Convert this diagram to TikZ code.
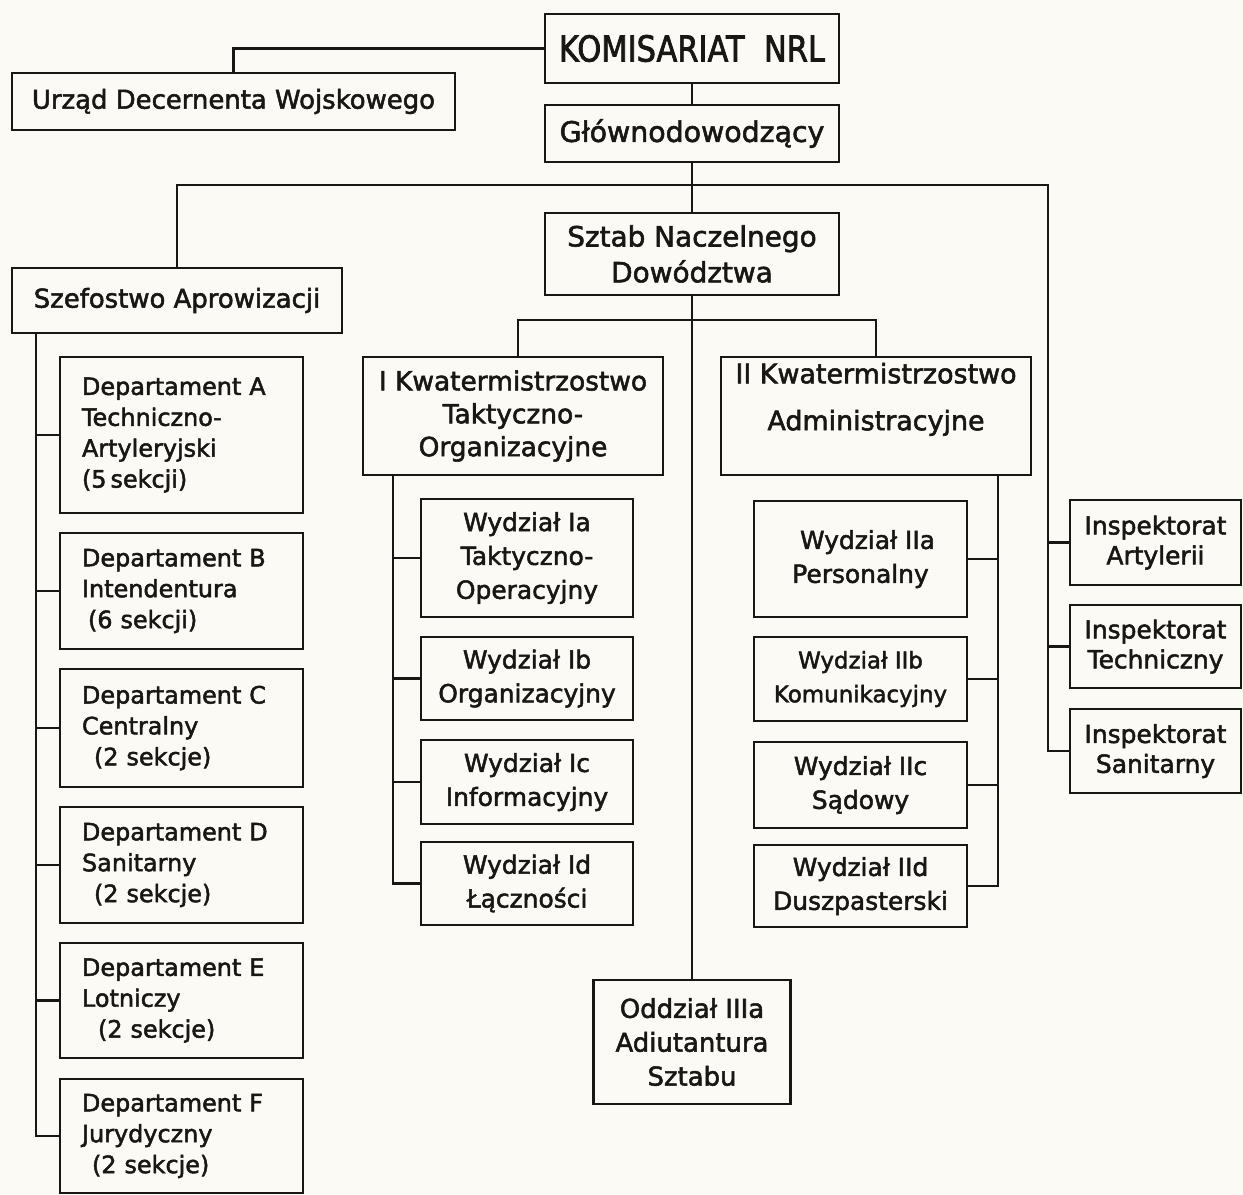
\documentclass[tikz,border=0pt]{standalone}
\usepackage{fontspec}
\setmainfont[FakeBold=2]{DejaVu Sans}
\newfontfamily\nfont[FakeStretch=0.85,FakeBold=2]{DejaVu Sans}
\definecolor{bgc}{RGB}{251,250,244}
\definecolor{ink}{RGB}{25,22,20}
\tikzset{
  box/.style={draw=ink, text=ink, line width=2.8bp, inner sep=0pt, align=center,
              font=\fontsize{24}{33}\selectfont},
  big/.style={box, font=\fontsize{26}{36}\selectfont},
  dept/.style={box, minimum width=243bp, text width=199bp, inner xsep=22bp, align=left,
               font=\fontsize{24}{31}\selectfont},
  wyd/.style={box, font=\fontsize{25}{34}\selectfont},
  insp/.style={box, minimum width=171bp, font=\fontsize{25}{30}\selectfont},
  conn/.style={draw=ink, line width=2.8bp}
}
\begin{document}
\begin{tikzpicture}[x=1bp,y=-1bp]
\useasboundingbox (0,0) rectangle (1243,1195);
\fill[bgc] (0,0) rectangle (1243,1195);

% top level
\node[box, minimum width=294bp, minimum height=69bp, font=\nfont\fontsize{36}{40}\selectfont] (kom) at (692,48.5) {KOMISARIAT\ \ NRL};
\node[box, minimum width=294bp, minimum height=57bp, font=\fontsize{28.5}{32}\selectfont] (glo) at (692,133.5) {Głównodowodzący};
\node[big, minimum width=443bp, minimum height=57bp] (urz) at (233.5,101.5) {Urząd Decernenta Wojskowego};
\node[big, minimum width=330bp, minimum height=65bp] (szef) at (177,300.5) {Szefostwo Aprowizacji};
\node[big, minimum width=294bp, minimum height=82bp, font=\fontsize{28}{36}\selectfont] (sztab) at (692,254) {Sztab Naczelnego\\Dowództwa};

% quartermasters
\node[box, minimum width=300bp, minimum height=118bp, font=\fontsize{26.5}{33}\selectfont] (kwI) at (513,416) {I Kwatermistrzostwo\\Taktyczno-\\Organizacyjne};
\node[box, minimum width=310bp, minimum height=118bp, font=\fontsize{27}{33}\selectfont] (kwII) at (876,416) {II Kwatermistrzostwo\\[14bp]Administracyjne\\[6bp]};

% departments
\node[dept, minimum height=156bp] (dA) at (181.5,435) {Departament A\\Techniczno-\\Artyleryjski\\(5\,sekcji)};
\node[dept, minimum height=116bp] (dB) at (181.5,591) {Departament B\\Intendentura\\\hspace*{6bp}(6 sekcji)};
\node[dept, minimum height=118bp] (dC) at (181.5,728) {Departament C\\Centralny\\\hspace*{12bp}(2 sekcje)};
\node[dept, minimum height=116bp] (dD) at (181.5,865) {Departament D\\Sanitarny\\\hspace*{12bp}(2 sekcje)};
\node[dept, minimum height=115bp] (dE) at (181.5,1000.5) {Departament E\\Lotniczy\\\hspace*{16bp}(2 sekcje)};
\node[dept, minimum height=114bp] (dF) at (181.5,1136) {Departament F\\Jurydyczny\\\hspace*{10bp}(2 sekcje)};

% Wydzialy I
\node[wyd, minimum width=212bp, minimum height=118bp] (wIa) at (527,558) {Wydział Ia\\Taktyczno-\\Operacyjny};
\node[wyd, minimum width=212bp, minimum height=83bp] (wIb) at (527,678.5) {Wydział Ib\\Organizacyjny};
\node[wyd, minimum width=212bp, minimum height=84bp] (wIc) at (527,782) {Wydział Ic\\Informacyjny};
\node[wyd, minimum width=212bp, minimum height=83bp] (wId) at (527,883.5) {Wydział Id\\Łączności};

% Wydzialy II
\node[wyd, minimum width=213bp, minimum height=116bp] (wIIa) at (860.5,559) {\hspace*{14bp}Wydział IIa\\Personalny};
\node[wyd, minimum width=213bp, minimum height=84bp, font=\fontsize{23}{34}\selectfont] (wIIb) at (860.5,679) {Wydział IIb\\Komunikacyjny};
\node[wyd, minimum width=213bp, minimum height=86bp] (wIIc) at (860.5,785) {Wydział IIc\\Sądowy};
\node[wyd, minimum width=213bp, minimum height=82bp] (wIId) at (860.5,886) {Wydział IId\\Duszpasterski};

% Inspektoraty
\node[insp, minimum height=85bp] (art) at (1155.5,542.5) {Inspektorat\\Artylerii};
\node[insp, minimum height=83bp] (tech) at (1155.5,646.5) {Inspektorat\\Techniczny};
\node[insp, minimum height=84bp] (san) at (1155.5,751) {Inspektorat\\Sanitarny};

% Oddzial
\node[wyd, minimum width=197bp, minimum height=124bp, font=\fontsize{26}{34}\selectfont] (odd) at (692,1042) {Oddział IIIa\\Adiutantura\\Sztabu};

% connector coordinates
\coordinate (hR) at (1048,185);
\coordinate (kL) at (518,320);
\coordinate (kR) at (876,320);
\coordinate (tL) at (36,0);
\coordinate (tI) at (393,0);
\coordinate (tII) at (998,0);

% connectors
\draw[conn] (urz.north) |- (kom.west);
\draw[conn] (kom.south) -- (glo.north);
\draw[conn] (glo.south) -- (sztab.north);
\draw[conn] (szef.north) |- (hR) |- (san.west);
\draw[conn] (hR |- art.west) -- (art.west);
\draw[conn] (hR |- tech.west) -- (tech.west);
\draw[conn] (sztab.south) -- (odd.north);
\draw[conn] (kL |- kwI.north) -- (kL) -- (kR) -- (kwII.north);

\draw[conn] (tL |- szef.south) |- (dF.west);
\foreach \d in {dA,dB,dC,dD,dE} \draw[conn] (tL |- \d.west) -- (\d.west);

\draw[conn] (tI |- kwI.south) |- (wId.west);
\foreach \d in {wIa,wIb,wIc} \draw[conn] (tI |- \d.west) -- (\d.west);

\draw[conn] (tII |- kwII.south) |- (wIId.east);
\foreach \d in {wIIa,wIIb,wIIc} \draw[conn] (tII |- \d.east) -- (\d.east);
\end{tikzpicture}
\end{document}
